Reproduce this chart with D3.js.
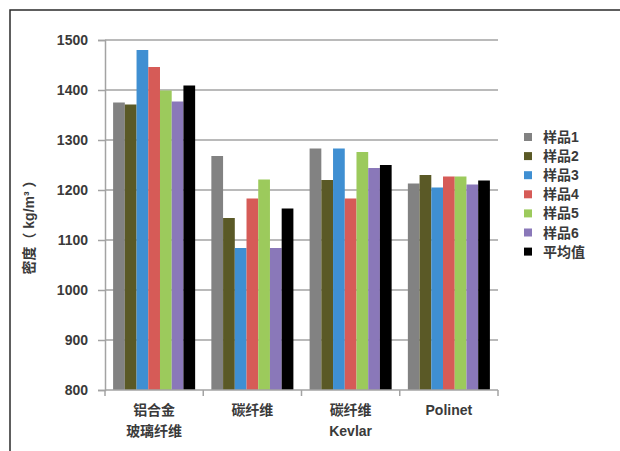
<!DOCTYPE html>
<html>
<head>
<meta charset="utf-8">
<script src="https://cdn.jsdelivr.net/npm/d3@7"></script>
<style>
  html, body { margin: 0; padding: 0; background: #fff; }
  svg { display: block; }
  text { font-family: "Liberation Sans", "Noto Sans CJK SC", sans-serif; fill: #3a3a3a; font-weight: bold; }
</style>
</head>
<body>
<svg id="chart" width="620" height="451"></svg>
<script>
// Density of sample materials (kg/m³)
const categories = [["铝合金", "玻璃纤维"], ["碳纤维"], ["碳纤维", "Kevlar"], ["Polinet"]];
const seriesNames = ["样品1", "样品2", "样品3", "样品4", "样品5", "样品6", "平均值"];
const seriesColors = ["#828282", "#5a5926", "#3f8fd2", "#d65b57", "#9cca5c", "#8a78b9", "#000000"];
const s1 = [1375, 1268, 1283, 1213];
const s2 = [1371, 1144, 1220, 1230];
const s3 = [1480, 1084, 1283, 1205];
const s4 = [1446, 1183, 1183, 1227];
const s5 = [1399, 1221, 1276, 1227];
const s6 = [1377, 1084, 1244, 1211];
const avg = [1409, 1163, 1250, 1219];
const seriesValues = [s1, s2, s3, s4, s5, s6, avg];
const yTicks = [800, 900, 1000, 1100, 1200, 1300, 1400, 1500];
const yTitle = "密度（ kg/m³ ）";

const svg = d3.select("#chart");
const plotLeft = 105, plotRight = 498, plotTop = 40, plotBottom = 390;

// Outer frame (top and left edges)
svg.append("path")
  .attr("d", `M10,451 L10,10 L620,10`)
  .attr("fill", "none").attr("stroke", "#2a2a2a").attr("stroke-width", 1.5);

const catKeys = categories.map((c, i) => i);
const x = d3.scaleBand().domain(catKeys).range([plotLeft, plotRight]).paddingInner(0.165).paddingOuter(0.0825);
const xs = d3.scaleBand().domain(seriesNames).range([0, x.bandwidth()]).padding(0);
const y = d3.scaleLinear().domain([800, 1500]).range([plotBottom, plotTop]);

// Horizontal gridlines
svg.append("g").selectAll("line").data(yTicks.filter(t => t > 800)).join("line")
  .attr("x1", plotLeft).attr("x2", plotRight)
  .attr("y1", d => y(d)).attr("y2", d => y(d))
  .attr("stroke", "#a3a3a3").attr("stroke-width", 1.5);

// Bars
const groups = svg.append("g").selectAll("g").data(catKeys).join("g")
  .attr("transform", d => `translate(${x(d)},0)`);
groups.selectAll("rect")
  .data(ci => seriesNames.map((name, si) => ({ name, si, v: seriesValues[si][ci] })))
  .join("rect")
  .attr("x", d => xs(d.name))
  .attr("width", xs.bandwidth())
  .attr("y", d => y(d.v))
  .attr("height", d => y(800) - y(d.v))
  .attr("fill", d => seriesColors[d.si]);

// Y axis
const yAxis = svg.append("g").attr("transform", `translate(${plotLeft},0)`)
  .call(d3.axisLeft(y).tickValues(yTicks).tickSize(7).tickPadding(10).tickFormat(d3.format("d")));
yAxis.select(".domain").attr("stroke", "#a3a3a3").attr("stroke-width", 1.5);
yAxis.selectAll(".tick line").attr("stroke", "#a3a3a3").attr("stroke-width", 1.5);
yAxis.selectAll(".tick text").style("font-size", "14px").attr("fill", "#3a3a3a")
  .style("font-family", "Liberation Sans, sans-serif").style("font-weight", "bold");

// X axis line with tick marks at category boundaries
const xAxis = svg.append("g");
xAxis.append("line").attr("x1", plotLeft).attr("x2", plotRight).attr("y1", plotBottom).attr("y2", plotBottom)
  .attr("stroke", "#a3a3a3").attr("stroke-width", 1.5);
const bounds = catKeys.map(k => x(k) - x.step() * x.paddingInner() / 2).concat([plotRight]);
bounds[0] = plotLeft;
xAxis.selectAll("line.tk").data(bounds).join("line").attr("class", "tk")
  .attr("x1", d => d).attr("x2", d => d).attr("y1", plotBottom).attr("y2", plotBottom + 6)
  .attr("stroke", "#a3a3a3").attr("stroke-width", 1.5);

// Category labels
const catLabels = svg.append("g").selectAll("text").data(catKeys).join("text")
  .attr("x", d => x(d) + x.bandwidth() / 2)
  .attr("y", 415)
  .attr("text-anchor", "middle")
  .style("font-size", "14px");
catLabels.selectAll("tspan").data(d => categories[d]).join("tspan")
  .attr("x", function() { return d3.select(this.parentNode).attr("x"); })
  .attr("dy", (d, i) => i === 0 ? 0 : 21)
  .text(d => d);

// Y axis title
svg.append("text")
  .attr("transform", `translate(34,224) rotate(-90)`)
  .attr("text-anchor", "middle")
  .style("font-size", "14px")
  .text(yTitle);

// Legend
const legend = svg.append("g").selectAll("g").data(seriesNames).join("g")
  .attr("transform", (d, i) => `translate(524,${137 + i * 19.1})`);
legend.append("rect").attr("x", 0).attr("y", -4).attr("width", 8).attr("height", 8)
  .attr("fill", (d, i) => seriesColors[i]);
legend.append("text").attr("x", 19).attr("y", 0).attr("dy", "0.36em")
  .style("font-size", "14px").text(d => d);
</script>
</body>
</html>
